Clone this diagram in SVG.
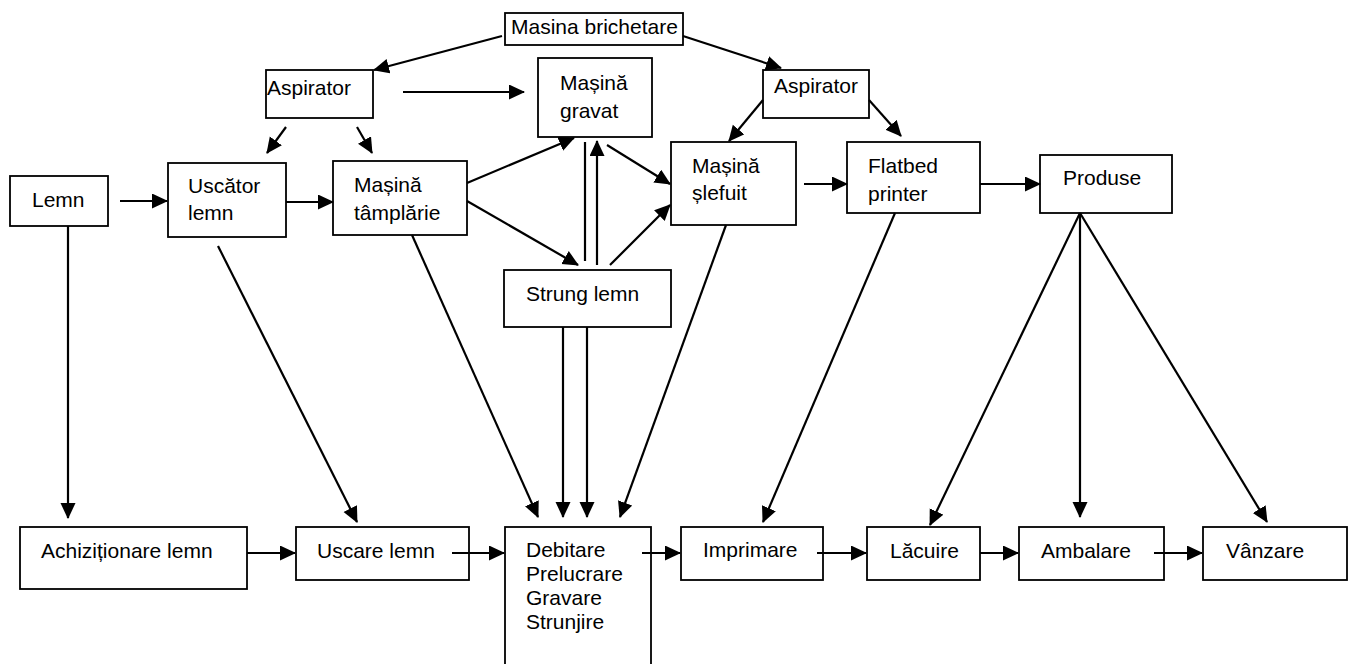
<svg xmlns="http://www.w3.org/2000/svg" width="1354" height="664" viewBox="0 0 1354 664">
<style>
  .box { fill: #ffffff; stroke: #000000; stroke-width: 1.8; }
  .t { font-family: "Liberation Sans", Arial, sans-serif; font-size: 21px; fill: #000000; }
  .c line { stroke: #000000; stroke-width: 2.2; }
  .a { marker-end: url(#ah); }
</style>
<defs>
  <marker id="ah" markerUnits="userSpaceOnUse" markerWidth="18" markerHeight="16" refX="15" refY="7.5" orient="auto">
    <path d="M0,0 L16,7.5 L0,15 z" fill="#000000"/>
  </marker>
</defs>
<rect width="1354" height="664" fill="#ffffff"/>

<g id="n-brichetare"><rect class="box" x="505" y="13" width="178" height="32"/><text class="t" x="511" y="34">Masina brichetare</text></g>
<g id="n-aspirator1"><rect class="box" x="266" y="70" width="107" height="48"/><text class="t" x="267" y="95">Aspirator</text></g>
<g id="n-gravat"><rect class="box" x="538" y="58" width="114" height="79"/><text class="t" x="560" y="90">Mașină</text><text class="t" x="560" y="118">gravat</text></g>
<g id="n-aspirator2"><rect class="box" x="763" y="70" width="106" height="48"/><text class="t" x="774" y="93">Aspirator</text></g>
<g id="n-lemn"><rect class="box" x="10" y="176" width="98" height="50"/><text class="t" x="32" y="207">Lemn</text></g>
<g id="n-uscator"><rect class="box" x="168" y="163" width="118" height="74"/><text class="t" x="188" y="193">Uscător</text><text class="t" x="188" y="220">lemn</text></g>
<g id="n-tamplarie"><rect class="box" x="333" y="161" width="134" height="74"/><text class="t" x="354" y="192">Mașină</text><text class="t" x="354" y="220">tâmplărie</text></g>
<g id="n-slefuit"><rect class="box" x="671" y="142" width="125" height="83"/><text class="t" x="692" y="173">Mașină</text><text class="t" x="692" y="200">șlefuit</text></g>
<g id="n-flatbed"><rect class="box" x="847" y="142" width="133" height="71"/><text class="t" x="868" y="173">Flatbed</text><text class="t" x="868" y="201">printer</text></g>
<g id="n-produse"><rect class="box" x="1040" y="155" width="132" height="58"/><text class="t" x="1063" y="185">Produse</text></g>
<g id="n-strung"><rect class="box" x="504" y="270" width="167" height="57"/><text class="t" x="526" y="301">Strung lemn</text></g>

<g id="n-achizitionare"><rect class="box" x="20" y="527" width="227" height="62"/><text class="t" x="41" y="558">Achiziționare lemn</text></g>
<g id="n-uscare"><rect class="box" x="296" y="527" width="173" height="53"/><text class="t" x="317" y="558">Uscare lemn</text></g>
<g id="n-debitare"><rect class="box" x="505" y="527" width="146" height="145"/><text class="t" x="526" y="557">Debitare</text><text class="t" x="526" y="581">Prelucrare</text><text class="t" x="526" y="605">Gravare</text><text class="t" x="526" y="629">Strunjire</text></g>
<g id="n-imprimare"><rect class="box" x="681" y="527" width="142" height="53"/><text class="t" x="703" y="557">Imprimare</text></g>
<g id="n-lacuire"><rect class="box" x="867" y="527" width="113" height="53"/><text class="t" x="890" y="558">Lăcuire</text></g>
<g id="n-ambalare"><rect class="box" x="1019" y="527" width="145" height="53"/><text class="t" x="1041" y="558">Ambalare</text></g>
<g id="n-vanzare"><rect class="box" x="1203" y="527" width="144" height="53"/><text class="t" x="1226" y="558">Vânzare</text></g>

<g id="connectors" class="c">
  <line class="a" x1="502" y1="36" x2="374" y2="70"/>
  <line class="a" x1="683" y1="36" x2="781" y2="68"/>
  <line class="a" x1="403" y1="92" x2="524" y2="92"/>
  <line class="a" x1="286" y1="127" x2="267" y2="153"/>
  <line class="a" x1="357" y1="127" x2="372" y2="153"/>
  <line class="a" x1="467" y1="183" x2="574" y2="138"/>
  <line class="a" x1="467" y1="201" x2="578" y2="265"/>
  <line x1="585" y1="142" x2="585" y2="261"/>
  <line class="a" x1="597" y1="265" x2="597" y2="141"/>
  <line class="a" x1="607" y1="145" x2="670" y2="184"/>
  <line class="a" x1="610" y1="265" x2="670" y2="205"/>
  <line class="a" x1="763" y1="100" x2="729" y2="141"/>
  <line class="a" x1="869" y1="100" x2="901" y2="136"/>
  <line class="a" x1="804" y1="184" x2="847" y2="184"/>
  <line class="a" x1="980" y1="184" x2="1040" y2="184"/>
  <line class="a" x1="120" y1="201" x2="167" y2="201"/>
  <line class="a" x1="286" y1="202" x2="333" y2="202"/>
  <line class="a" x1="68" y1="226" x2="68" y2="518"/>
  <line class="a" x1="218" y1="246" x2="357" y2="522"/>
  <line class="a" x1="412" y1="235" x2="538" y2="517"/>
  <line class="a" x1="563" y1="327" x2="563" y2="517"/>
  <line class="a" x1="587" y1="327" x2="587" y2="517"/>
  <line class="a" x1="726" y1="225" x2="620" y2="517"/>
  <line class="a" x1="895" y1="213" x2="763" y2="522"/>
  <line class="a" x1="1080" y1="213" x2="930" y2="525"/>
  <line class="a" x1="1080" y1="213" x2="1080" y2="517"/>
  <line class="a" x1="1080" y1="213" x2="1267" y2="522"/>
  <line class="a" x1="247" y1="553" x2="295" y2="553"/>
  <line class="a" x1="452" y1="553" x2="504" y2="553"/>
  <line class="a" x1="642" y1="553" x2="680" y2="553"/>
  <line class="a" x1="817" y1="553" x2="866" y2="553"/>
  <line class="a" x1="980" y1="553" x2="1018" y2="553"/>
  <line class="a" x1="1154" y1="553" x2="1202" y2="553"/>
</g>
</svg>
